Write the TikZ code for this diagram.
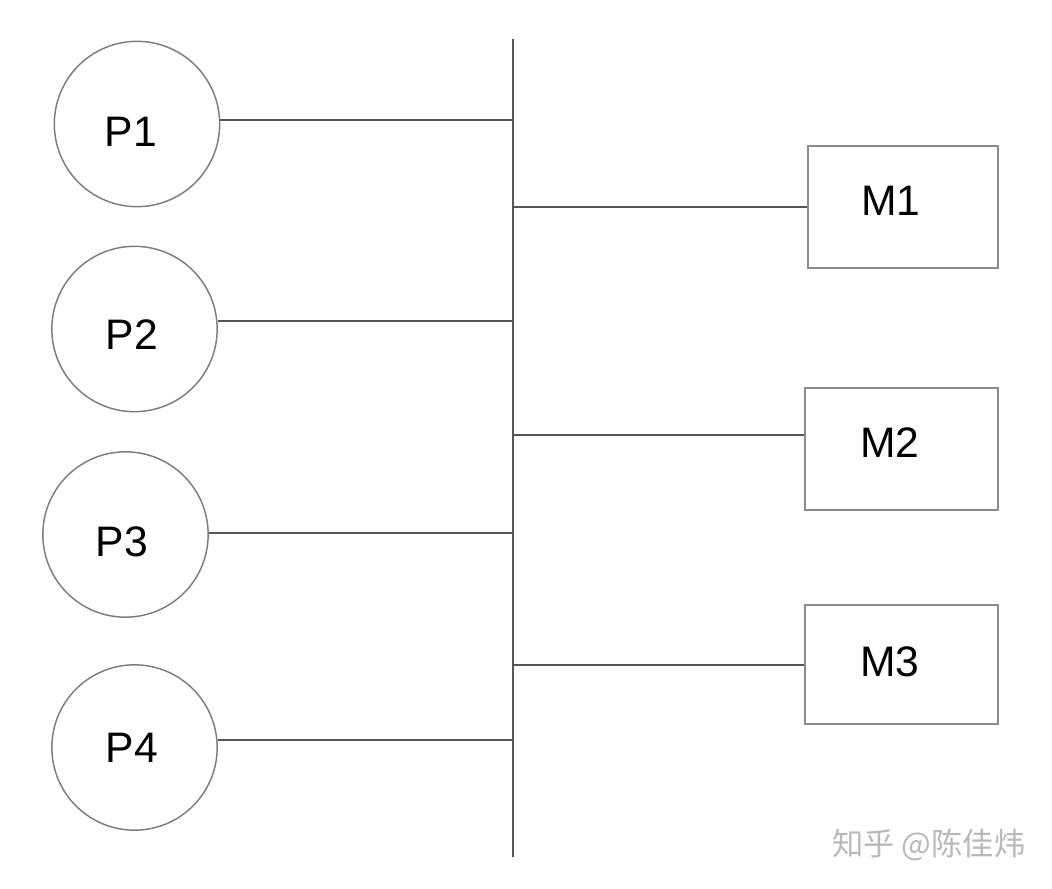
\documentclass[tikz,border=0pt]{standalone}
\usepackage{fontspec}
\setmainfont{Liberation Sans}
\newfontfamily\cjk{Noto Sans CJK SC}
\definecolor{circcol}{RGB}{125,125,125}
\definecolor{linecol}{RGB}{85,85,85}
\definecolor{boxcol}{RGB}{140,140,140}
\definecolor{wmcol}{RGB}{185,185,185}
\tikzset{
  pcirc/.style={circle, draw=circcol, line width=1.1pt, minimum size=124pt, inner sep=0pt},
  mbox/.style={rectangle, draw=boxcol, line width=1.5pt, inner sep=0pt},
  lbl/.style={font=\fontsize{32}{36}\selectfont, text=black, inner sep=0pt},
  conn/.style={draw=linecol, line width=1.5pt},
}
\begin{document}
\begin{tikzpicture}[x=0.75pt,y=-0.75pt]
\useasboundingbox (0,0) rectangle (1052,888);
% bus
\coordinate (bt) at (513,39);
\coordinate (bb) at (513,857);
\draw[conn] (bt) -- (bb);
% processors
\node[pcirc] (P1) at (137,124) {};
\node[pcirc] (P2) at (134.5,329) {};
\node[pcirc] (P3) at (125.5,534.5) {};
\node[pcirc] (P4) at (134.5,747.5) {};
\node[lbl] (tP1) at (131,132) {P1};
\node[lbl] (tP2) at (132,335) {P2};
\node[lbl] (tP3) at (122,542) {P3};
\node[lbl] (tP4) at (132,748) {P4};
% memories
\node[mbox, minimum width=142.5pt, minimum height=91.5pt] (M1) at (903,207) {};
\node[mbox, minimum width=144.75pt, minimum height=91.5pt] (M2) at (901.5,449) {};
\node[mbox, minimum width=144.75pt, minimum height=89.25pt] (M3) at (901.5,664.5) {};
\node[lbl] (tM1) at (891,201) {M1};
\node[lbl] (tM2) at (890,443) {M2};
\node[lbl] (tM3) at (890,662) {M3};
% connectors
\draw[conn] ([yshift=3pt]P1.east) -- ([yshift=3pt]P1.east -| bt);
\draw[conn] ([yshift=6pt]P2.east) -- ([yshift=6pt]P2.east -| bt);
\draw[conn] ([yshift=1pt]P3.east) -- ([yshift=1pt]P3.east -| bt);
\draw[conn] ([yshift=6pt]P4.east) -- ([yshift=6pt]P4.east -| bt);
\draw[conn] (M1.west) -- (M1.west -| bt);
\draw[conn] ([yshift=10.5pt]M2.west) -- ([yshift=10.5pt]M2.west -| bt);
\draw[conn] (M3.west) -- (M3.west -| bt);
% watermark
\node[font=\cjk\fontsize{23.5}{26}\selectfont, text=wmcol, anchor=west, inner sep=0pt] (wm) at (832,845) {知乎 @陈佳炜};
\end{tikzpicture}
\end{document}
